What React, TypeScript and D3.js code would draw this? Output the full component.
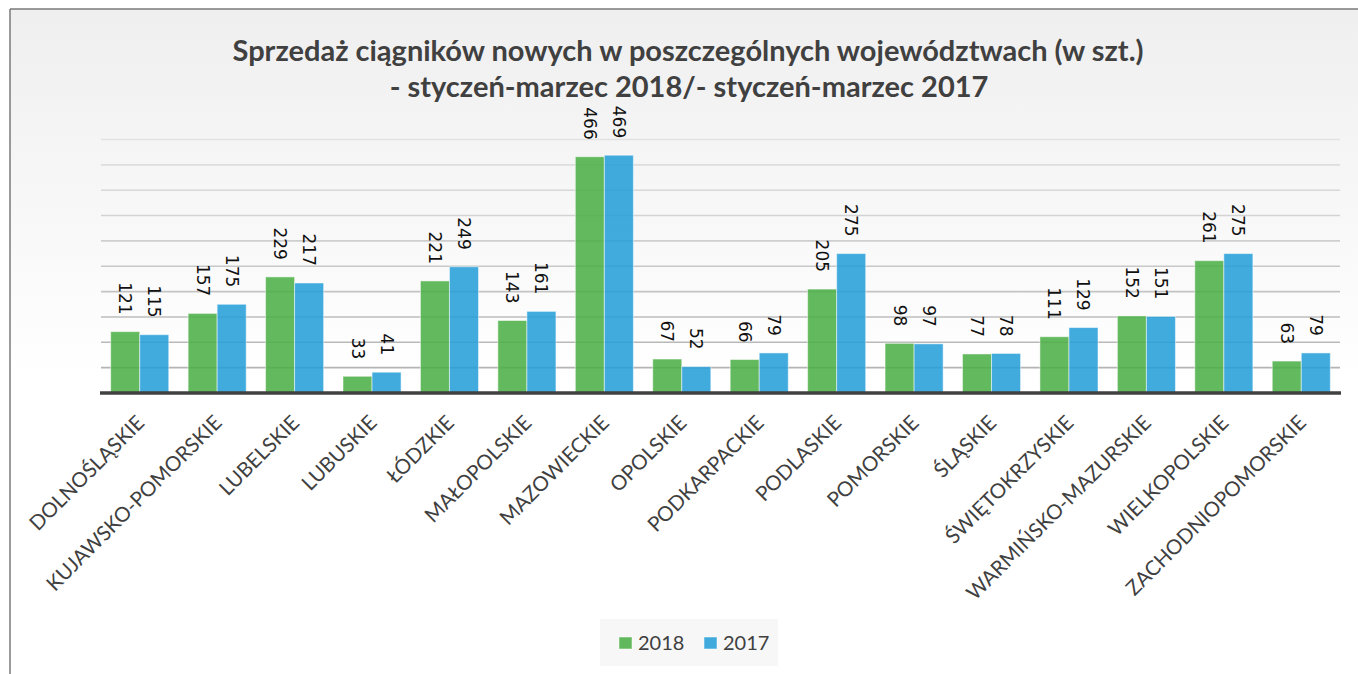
import React from "react";
import * as d3 from "d3";

const regions = [
  "DOLNOŚLĄSKIE",
  "KUJAWSKO-POMORSKIE",
  "LUBELSKIE",
  "LUBUSKIE",
  "ŁÓDZKIE",
  "MAŁOPOLSKIE",
  "MAZOWIECKIE",
  "OPOLSKIE",
  "PODKARPACKIE",
  "PODLASKIE",
  "POMORSKIE",
  "ŚLĄSKIE",
  "ŚWIĘTOKRZYSKIE",
  "WARMIŃSKO-MAZURSKIE",
  "WIELKOPOLSKIE",
  "ZACHODNIOPOMORSKIE",
];
const sales2018 = [121, 157, 229, 33, 221, 143, 466, 67, 66, 205, 98, 77, 111, 152, 261, 63];
const sales2017 = [115, 175, 217, 41, 249, 161, 469, 52, 79, 275, 97, 78, 129, 151, 275, 79];
const seriesNames = ["2018", "2017"];
const gridTicks = d3.range(0, 501, 50);

const W = 1358;
const H = 674;
const colors = ["#4caf45", "#259fd9"];

const App = () => {
  const x = d3
    .scaleBand()
    .domain(regions)
    .range([101, 1340])
    .paddingInner(0.25)
    .paddingOuter(0.125);
  const inner = d3
    .scaleBand()
    .domain(seriesNames)
    .range([0, x.bandwidth()]);
  const y = d3.scaleLinear().domain([0, 500]).range([393, 139.5]);
  const gridColor = d3.interpolateRgb("#e2e2e2", "#b4b4b4");

  const series = [sales2018, sales2017];

  return (
    <svg
      width={W}
      height={H}
      style={{ position: "absolute", left: 0, top: 0 }}
    >
      <defs>
        <linearGradient id="bg" x1="0" y1="0" x2="0" y2="1">
          <stop offset="0" stopColor="#efefef" />
          <stop offset="0.55" stopColor="#ffffff" />
          <stop offset="1" stopColor="#ffffff" />
        </linearGradient>
      </defs>
      <rect x={10} y={9} width={W} height={H} fill="url(#bg)" />
      <line x1={10} y1={9} x2={W} y2={9} stroke="#7a7a7a" strokeWidth={1.5} />
      <line x1={10} y1={9} x2={10} y2={H} stroke="#7a7a7a" strokeWidth={1.5} />

      <g fontFamily="Lato, 'Open Sans', sans-serif" fontWeight="bold" fill="#404040" fontSize={29} textAnchor="middle">
        <text x={688} y={61}>
          Sprzedaż ciągników nowych w poszczególnych województwach (w szt.)
        </text>
        <text x={689} y={97}>
          - styczeń-marzec 2018/- styczeń-marzec 2017
        </text>
      </g>

      <g>
        {gridTicks.slice(1).map((t, i) => (
          <line
            key={t}
            x1={101}
            x2={1340}
            y1={y(t)}
            y2={y(t)}
            stroke={gridColor(1 - i / (gridTicks.length - 2))}
            strokeWidth={1.6}
          />
        ))}
      </g>

      <g>
        {regions.map((r, i) => (
          <g key={r} transform={`translate(${x(r)},0)`}>
            {series.map((vals, s) => (
              <rect
                key={s}
                x={inner(seriesNames[s])}
                y={y(vals[i])}
                width={inner.bandwidth()}
                height={y(0) - y(vals[i])}
                fill={colors[s]}
                fillOpacity={0.87}
                stroke="#ffffff"
                strokeOpacity={0.5}
                strokeWidth={1}
              />
            ))}
            {series.map((vals, s) => (
              <text
                key={"l" + s}
                transform={`translate(${(inner(seriesNames[s]) || 0) + inner.bandwidth() / 2},${y(vals[i]) - 17}) rotate(90)`}
                textAnchor="end"
                dominantBaseline="central"
                fontFamily="'DejaVu Sans', sans-serif"
                fontSize={17}
                fill="#111"
              >
                {vals[i]}
              </text>
            ))}
          </g>
        ))}
      </g>

      <line x1={100} x2={1341} y1={393} y2={393} stroke="#404040" strokeWidth={3.5} />

      <g fontFamily="Lato, 'Open Sans', sans-serif" fontSize={20.5} fill="#404040">
        {regions.map((r) => (
          <text
            key={r}
            textAnchor="end"
            transform={`translate(${(x(r) || 0) + x.bandwidth() / 2 + 6},424) rotate(-45)`}
          >
            {r}
          </text>
        ))}
      </g>

      <g>
        <rect x={600} y={619} width={178} height={47} fill="#f7f7f7" />
        {seriesNames.map((s, i) => (
          <g key={s} transform={`translate(${619 + i * 85},0)`}>
            <rect
              x={0}
              y={637}
              width={13}
              height={12}
              fill={colors[i]}
              fillOpacity={0.87}
              stroke="#ffffff"
              strokeOpacity={0.5}
            />
            <text
              x={19}
              y={650}
              fontFamily="Lato, 'Open Sans', sans-serif"
              fontSize={20}
              fill="#404040"
            >
              {s}
            </text>
          </g>
        ))}
      </g>
    </svg>
  );
};

export default App;
